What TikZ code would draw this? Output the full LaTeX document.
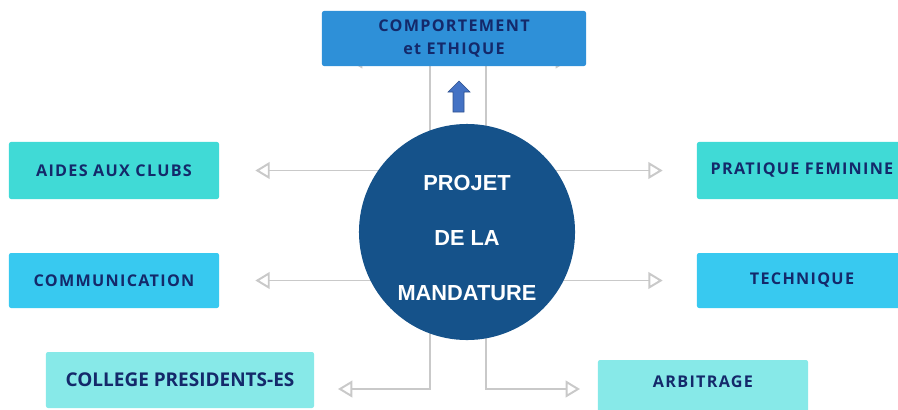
\documentclass[tikz,border=0pt]{standalone}
\usepackage{fontspec}
\setmainfont{Open Sans}
\newfontfamily\boxfont[LetterSpace=8]{Open Sans}
\newfontfamily\circfont{Liberation Sans}
\usetikzlibrary{arrows.meta,positioning,backgrounds}

\definecolor{navy}{HTML}{14296A}
\definecolor{topblue}{HTML}{2E90D8}
\definecolor{turq}{HTML}{40DAD6}
\definecolor{sky}{HTML}{38C9F0}
\definecolor{aqua}{HTML}{87E9E8}
\definecolor{circblue}{HTML}{15528A}
\definecolor{linkgray}{HTML}{C9C9C9}
\definecolor{upblue}{HTML}{4472C4}
\definecolor{upedge}{HTML}{2F528F}

\tikzset{
  topic/.style={rectangle, rounded corners=1.5pt, inner sep=0pt,
    minimum width=5.25cm, minimum height=1.4cm, text=navy,
    font=\boxfont\bfseries\fontsize{11.5}{17}\selectfont},
  link/.style={draw=linkgray, line width=1.4pt,
    -{Triangle[open, length=0.36cm, width=0.42cm]}},
}

\begin{document}
\begin{tikzpicture}[x=0.025cm, y=-0.025cm]

  \useasboundingbox (0,0) rectangle (898,409);

  % centre
  \node[circle, fill=circblue, minimum size=5.4cm, inner sep=0pt] (proj) at (467,232) {};
  \node[align=center, text=white, font=\circfont\bfseries\fontsize{15.5}{39}\selectfont]
    (projtxt) at (467,238) {PROJET\\DE LA\\MANDATURE};

  % themes
  \node[topic, fill=topblue, minimum width=6.6cm, minimum height=1.375cm, align=center]
    (comp) at (454,38.5) {COMPORTEMENT\\et ETHIQUE};
  \node[topic, fill=turq, minimum height=1.425cm] (aides) at (114,170.5) {AIDES AUX CLUBS};
  \node[topic, fill=sky, minimum height=1.375cm] (comm) at (114,280.5) {COMMUNICATION};
  \node[topic, fill=turq, minimum height=1.425cm] (prat) at (802,170.5) {PRATIQUE FEMININE};
  \node[topic, fill=sky, minimum height=1.375cm] (tech) at (802,280.5) {TECHNIQUE};
  \node[topic, fill=aqua, minimum width=6.7cm,
    font=\bfseries\fontsize{13.5}{15}\selectfont] (coll) at (180,380) {COLLEGE PRESIDENTS-ES};
  \node[topic, fill=aqua, minimum height=1.3cm, text depth=0.2cm] (arb) at (703,386) {ARBITRAGE};

  % free ends
  \coordinate (compl) at (348,60);
  \coordinate (compr) at (570,60);
  \coordinate (collend) at (338,389);
  \coordinate (arbend) at (580,389);

  % connectors
  \begin{scope}[on background layer]
    \draw[link] (proj.center |- aides.east) -- ([xshift=0.9cm]aides.east);
    \draw[link] (proj.center |- comm.east) -- ([xshift=0.9cm]comm.east);
    \draw[link] (proj.center |- prat.west) -- ([xshift=-0.85cm]prat.west);
    \draw[link] (proj.center |- tech.west) -- ([xshift=-0.85cm]tech.west);
    \draw[link] ([xshift=-0.925cm]proj.center) |- (collend);
    \draw[link] ([xshift=0.475cm]proj.center) |- (arbend);
    \draw[link] ([xshift=-0.925cm]proj.center) |- (compl);
    \draw[link] ([xshift=0.475cm]proj.center) |- (compr);
  \end{scope}

  % up arrow
  \filldraw[fill=upblue, draw=upedge, line width=0.4pt]
    (453,112) -- (464,112) -- (464,92) -- (470,92) -- (459,81)
    -- (448,92) -- (453,92) -- cycle;

\end{tikzpicture}
\end{document}
